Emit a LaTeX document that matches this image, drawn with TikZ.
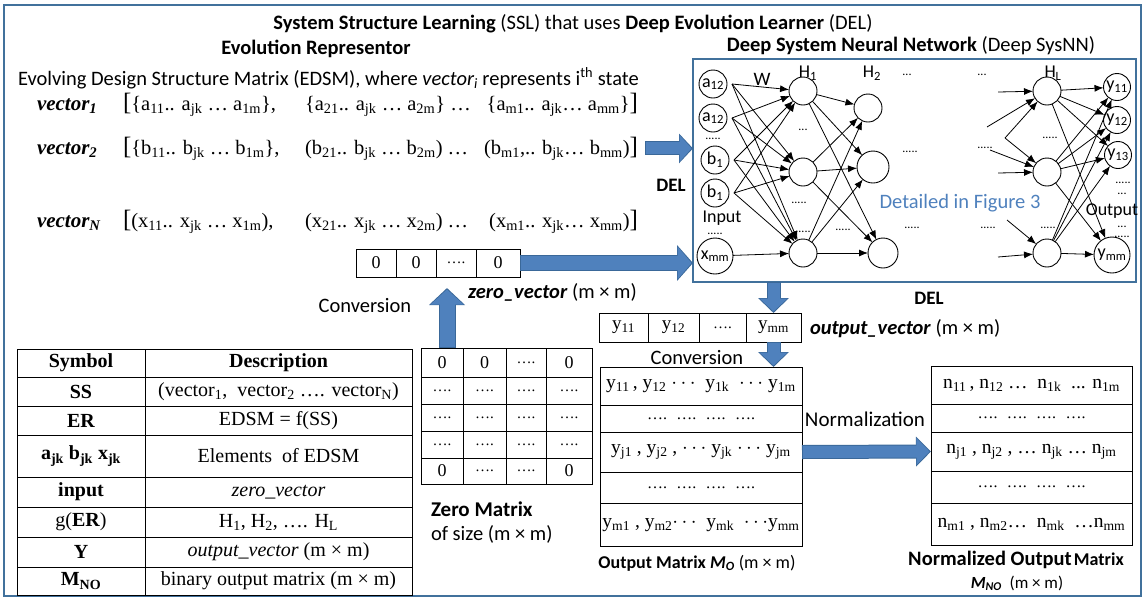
\documentclass[tikz,border=0pt]{standalone}
\usepackage{fontspec}
\setmainfont{Carlito}
\newfontfamily\tms{Liberation Serif}
\usetikzlibrary{arrows.meta,calc}

\definecolor{framebl}{HTML}{41719C}
\definecolor{arrbl}{HTML}{4F81BD}
\definecolor{arrdk}{HTML}{3A6899}
\definecolor{txtbl}{HTML}{4F81BD}

\newcommand\ssub[1]{\textsubscript{#1}}
\newcommand\fs[1]{\fontsize{#1}{#1}\selectfont}
\newcommand\dd{{\fs{15}….}}
\newcommand\rowdots{{\fs{16}…. \ …. \ …. \ ….}}

% one row of the zero matrix: index, top, height, four entries
\newcommand\zrow[7]{%
  \node[cell={42pt}{#3}] (zm-#1-1) at (421,#2) {#4};
  \node[cell={43pt}{#3}] (zm-#1-2) at (463,#2) {#5};
  \node[cell={40pt}{#3}] (zm-#1-3) at (506,#2) {#6};
  \node[cell={46pt}{#3}] (zm-#1-4) at (546,#2) {#7};}

% one row of the symbol table: index, top, height, symbol, description
\newcommand\trow[5]{%
  \node[cell={128pt}{#3}] (ts#1) at (17,#2) {#4};
  \node[cell={267pt}{#3}] (td#1) at (145,#2) {#5};}

% block arrow with a thin dark rim: shaft, head width, head length (plain and rimmed), from, to
\newcommand\blockarrow[8]{%
  \draw[blk={#4}{#5}{#6}] (#7) -- (#8);
  \draw[blk={#1}{#2}{#3}, draw=arrbl, shorten >=1.5pt, shorten <=1pt] (#7) -- (#8);}

\begin{document}
\begin{tikzpicture}[x=1pt,y=-1pt,
  every node/.style={inner sep=0pt, outer sep=0pt},
  cell/.style 2 args={draw, line width=0.9pt, minimum width=#1, minimum height=#2, anchor=north west},
  blk/.style n args={3}{draw=arrdk, line width=#1, -{Triangle[width=#2,length=#3]}},
  neur/.style={circle, draw, line width=0.9pt, minimum size=#1},
  nnarr/.style={draw, line width=0.8pt, -{Latex[length=9pt,width=7pt]}},
  nnlab/.style={font=\fs{18}},
  ddts/.style={font=\fs{12}},
  vlab/.style={anchor=base west, font=\tms\fs{21}\bfseries\itshape},
  vseg/.style={font=\tms\fs{20.5}},
]
\useasboundingbox (0,0) rectangle (1144,598);

% outer frame
\draw[framebl, line width=2pt] (4,5) rectangle (1141,596);

% headings
\node[anchor=base, font=\fs{20.5}] (title) at (573,29)
  {\textbf{System Structure Learning} (SSL) that uses \textbf{Deep Evolution Learner} (DEL)};
\node[anchor=base, font=\fs{20.5}\bfseries] (erhead) at (316,54) {Evolution Representor};
\node[anchor=base, font=\fs{20.5}] (nnhead) at (911,51) {\textbf{Deep System Neural Network} (Deep SysNN)};
\node[anchor=base west, font=\fs{20.5}] (edsm) at (18,85)
  {Evolving Design Structure Matrix (EDSM), where \textit{vector\ssub{i}} represents i\textsuperscript{th} state};

% state vectors
\node[vlab] (v1l) at (37,110) {vector\ssub{1}};
\node[vseg, anchor=base west] (v1a) at (123,110) {{\fs{25}[}\{a\ssub{11}.. a\ssub{jk} … a\ssub{1m}\},};
\node[vseg, anchor=base west] (v1b) at (305,110) {\{a\ssub{21}.. a\ssub{jk} … a\ssub{2m}\} …};
\node[vseg, anchor=base east] (v1c) at (638,110) {\{a\ssub{m1}.. a\ssub{jk}… a\ssub{mm}\}{\fs{25}]}};

\node[vlab] (v2l) at (37,154) {vector\ssub{2}};
\node[vseg, anchor=base west] (v2a) at (123,154) {{\fs{25}[}\{b\ssub{11}.. b\ssub{jk} … b\ssub{1m}\},};
\node[vseg, anchor=base west] (v2b) at (305,154) {(b\ssub{21}.. b\ssub{jk} … b\ssub{2m}) …};
\node[vseg, anchor=base east] (v2c) at (638,154) {(b\ssub{m1},.. b\ssub{jk}… b\ssub{mm}){\fs{25}]}};

\node[vlab] (vNl) at (37,227) {vector\ssub{N}};
\node[vseg, anchor=base west] (vNa) at (123,227) {{\fs{25}[}(x\ssub{11}.. x\ssub{jk} … x\ssub{1m}),};
\node[vseg, anchor=base west] (vNb) at (305,227) {(x\ssub{21}.. x\ssub{jk} … x\ssub{2m}) …};
\node[vseg, anchor=base east] (vNc) at (638,227) {(x\ssub{m1}.. x\ssub{jk}… x\ssub{mm}){\fs{25}]}};

\node[anchor=base, font=\fs{19}\bfseries] (del1) at (671,191) {DEL};

% zero vector
\begin{scope}[every node/.append style={font=\tms\fs{18}}]
\node[cell={40pt}{28pt}] (zv1) at (356,249) {0};
\node[cell={40pt}{28pt}] (zv2) at (396,249) {0};
\node[cell={40pt}{28pt}] (zv3) at (436,249) {\dd};
\node[cell={44pt}{28pt}] (zv4) at (476,249) {0};
\end{scope}
\node[anchor=base west, font=\fs{20.5}] (zvlab) at (468,298) {\textbf{\textit{zero\_vector}} (m × m)};
\node[anchor=base, font=\fs{20.5}] (conv1) at (365,312) {Conversion};

% zero matrix
\begin{scope}[every node/.append style={font=\tms\fs{18}}]
\zrow{1}{348}{29pt}{0}{0}{\dd}{0}
\zrow{2}{377}{27pt}{\dd}{\dd}{\dd}{\dd}
\zrow{3}{404}{27pt}{\dd}{\dd}{\dd}{\dd}
\zrow{4}{431}{27pt}{\dd}{\dd}{\dd}{\dd}
\zrow{5}{458}{26pt}{0}{\dd}{\dd}{0}
\end{scope}
\node[anchor=base west, font=\fs{21}\bfseries] (zmlab) at (431,516) {Zero Matrix};
\node[anchor=base west, font=\fs{20.5}] (zmsize) at (431,540) {of size (m × m)};

% Deep SysNN box
\node[draw=framebl, line width=1.8pt, minimum width=443pt, minimum height=223pt, anchor=north west] (nn) at (693,59) {};

% input layer
\node[neur=28pt, nnlab] (i1) at (713,84) {a\ssub{12}};
\node[neur=28pt, nnlab] (i2) at (713,118) {a\ssub{12}};
\node[neur=28pt, nnlab] (i3) at (715,160) {b\ssub{1}};
\node[neur=28pt, nnlab] (i4) at (715,193) {b\ssub{1}};
\node[neur=36pt, nnlab] (i5) at (715,256) {x\ssub{mm}};
\node[ddts] (id1) at (713,139) {.....};
\node[nnlab] (inlab) at (722,218) {Input};
\node[ddts] (id2) at (715,234) {.....};

% hidden layers
\node[neur=28pt] (h11) at (803,91) {};
\node[neur=28pt] (h12) at (803,172) {};
\node[neur=28pt] (h13) at (803,253) {};
\node[neur=28pt] (h21) at (868,108) {};
\node[neur=32pt] (h22) at (873,167) {};
\node[neur=30pt] (h23) at (883,253) {};
\node[neur=28pt] (hl1) at (1047,91) {};
\node[neur=28pt] (hl2) at (1047,172) {};
\node[neur=28pt] (hl3) at (1047,253) {};

% output layer
\node[neur=27pt, nnlab] (o1) at (1117,87) {y\ssub{11}};
\node[neur=27pt, nnlab] (o2) at (1117,120) {y\ssub{12}};
\node[neur=27pt, nnlab] (o3) at (1118,155) {y\ssub{13}};
\node[neur=36pt, nnlab] (o4) at (1112,255) {y\ssub{mm}};

% layer labels and ellipses
\node[font=\fs{19}] (wlab) at (762,79) {W};
\node[nnlab] (h1lab) at (808,73) {H\ssub{1}};
\node[nnlab] (h2lab) at (872,73) {H\ssub{2}};
\node[nnlab] (hllab) at (1053,73) {H\ssub{L}};
\node[ddts] (tdA) at (907,75) {...};
\node[ddts] (tdB) at (982,75) {...};
\node[ddts] (dA) at (803,130) {...};
\node[ddts] (dB) at (799,203) {.....};
\node[ddts] (dC) at (803,232) {.....};
\node[ddts] (dD) at (843,230) {.....};
\node[ddts] (dE) at (910,152) {.....};
\node[ddts] (dF) at (912,228) {.....};
\node[ddts] (dG) at (985,148) {.....};
\node[ddts] (dH) at (988,228) {.....};
\node[ddts] (dI) at (1050,138) {.....};
\node[ddts] (dJ) at (1048,228) {.....};
\node[ddts] (dK) at (1123,183) {.....};
\node[ddts] (dL) at (1122,194) {...};
\node[nnlab] (outlab) at (1112,211) {Output};
\node[ddts] (dM) at (1122,227) {...};
\node[ddts] (dN) at (1122,237) {.....};
\node[font=\fs{20.5}, text=txtbl] (detail) at (960,203) {Detailed in Figure 3};

% connections input -> H1
\foreach \i in {1,...,4} {
  \coordinate (f\i) at ([xshift=5pt]i\i.east);
  \foreach \j in {1,2,3} \draw[nnarr] (f\i) -- (h1\j);
}
\draw[nnarr] (i5) -- (h13);
% H1 -> H2
\foreach \i in {1,2,3} \foreach \j in {1,2,3} \draw[nnarr] (h1\i) -- (h2\j);
% incoming to HL
\coordinate (q1) at (998,92);
\coordinate (q2) at (987,127);
\coordinate (q3) at (1005,138);
\coordinate (q4) at (990,150);
\coordinate (q5) at (998,173);
\coordinate (q6) at (1007,220);
\coordinate (q7) at (998,257);
\draw[nnarr] (q1) -- (hl1);
\draw[nnarr] (q2) -- (hl1);
\draw[nnarr] (q3) -- (hl1);
\draw[nnarr] (q3) -- (hl2);
\draw[nnarr] (q4) -- (hl2);
\draw[nnarr] (q5) -- (hl2);
\draw[nnarr] (q6) -- (hl3);
\draw[nnarr] (q7) -- (hl3);
% HL -> outputs
\foreach \i in {1,2,3} \foreach \j in {1,...,4} \draw[nnarr] (hl\i) -- (o\j);

% output vector
\begin{scope}[every node/.append style={font=\tms\fs{19}}]
\node[cell={49pt}{29pt}] (ov1) at (599,313) {y\ssub{11}};
\node[cell={51pt}{29pt}] (ov2) at (648,313) {y\ssub{12}};
\node[cell={47pt}{29pt}] (ov3) at (699,313) {\dd};
\node[cell={55pt}{29pt}] (ov4) at (746,313) {y\ssub{mm}};
\end{scope}
\node[anchor=base, font=\fs{19}\bfseries] (del2) at (929,304) {DEL};
\node[anchor=base west, font=\fs{20.5}] (ovlab) at (810,334) {\textbf{\textit{output\_vector}} (m × m)};
\node[anchor=base, font=\fs{20.5}] (conv2) at (697,364) {Conversion};

% output matrix
\begin{scope}[every node/.append style={font=\tms\fs{19.5}}]
\node[cell={202pt}{38pt}] (om1) at (600,367) {y\ssub{11}\,, y\ssub{12} $\cdots$ \ y\ssub{1k} \ $\cdots$ y\ssub{1m}};
\node[cell={202pt}{27pt}] (om2) at (600,405) {\rowdots};
\node[cell={202pt}{40pt}] (om3) at (600,432) {y\ssub{j1} , y\ssub{j2} , $\cdots$ y\ssub{jk} $\cdots$ y\ssub{jm}};
\node[cell={202pt}{31pt}] (om4) at (600,472) {\rowdots};
\node[cell={202pt}{43pt}] (om5) at (600,503) {y\ssub{m1} , y\ssub{m2}$\cdots$ \ y\ssub{mk} \ $\cdots$y\ssub{mm}};
\end{scope}
\node[anchor=base, font=\fs{18}] (omlab) at (697,568)
  {\textbf{Output Matrix \textit{M\ssub{O}}} (m × m)};

% normalized matrix
\begin{scope}[every node/.append style={font=\tms\fs{19.5}}]
\node[cell={201pt}{38pt}] (nm1) at (931,366) {n\ssub{11}\,, n\ssub{12} … \ n\ssub{1k} \ ... n\ssub{1m}};
\node[cell={201pt}{28pt}] (nm2) at (931,404) {\rowdots};
\node[cell={201pt}{39pt}] (nm3) at (931,432) {n\ssub{j1} , n\ssub{j2} , … n\ssub{jk} … n\ssub{jm}};
\node[cell={201pt}{32pt}] (nm4) at (931,471) {\rowdots};
\node[cell={201pt}{42pt}] (nm5) at (931,503) {n\ssub{m1} , n\ssub{m2}… \ n\ssub{mk} \ …n\ssub{mm}};
\end{scope}
\node[anchor=base, font=\fs{21}] (normlab) at (865,426) {Normalization};
\node[anchor=base, font=\bfseries] (nmlab) at (1016,565)
  {{\fs{20.5}Normalized Output} {\fs{18}Matrix}};
\node[anchor=base, font=\fs{17}] (nmlab2) at (1017,588) {\textbf{\textit{M\ssub{NO}}} \ (m × m)};

% symbol table
\begin{scope}[every node/.append style={font=\tms\fs{20}}]
\trow{1}{349}{28pt}{\textbf{Symbol}}{\textbf{Description}}
\trow{2}{377}{29pt}{\textbf{SS}}{(vector\ssub{1}, \ vector\ssub{2} …. vector\ssub{N})}
\trow{3}{406}{29pt}{\textbf{ER}}{EDSM = f(SS)}
\trow{4}{435}{42pt}{\textbf{a\ssub{jk} b\ssub{jk} x\ssub{jk}}}{Elements \ of EDSM}
\trow{5}{477}{30pt}{\textbf{input}}{\textit{zero\_vector}}
\trow{6}{507}{30pt}{g(\textbf{ER})}{H\ssub{1}, H\ssub{2}, …. H\ssub{L}}
\trow{7}{537}{30pt}{\textbf{Y}}{\textit{output\_vector} (m × m)}
\trow{8}{567}{28pt}{\textbf{M\ssub{NO}}}{binary output matrix (m × m)}
\end{scope}

% block arrows
\coordinate (v2s) at ([xshift=7pt]v2c.east);
\coordinate (v2t) at (v2c.east -| nn.west);
\blockarrow{12pt}{26pt}{12pt}{14pt}{29pt}{14pt}{v2s}{v2t}
\coordinate (zvt) at (zv4.east -| nn.west);
\blockarrow{14pt}{32pt}{14pt}{16pt}{35pt}{16pt}{zv4.east}{zvt}
\coordinate (upS) at (447,348);
\coordinate (upT) at (447,288);
\blockarrow{15pt}{32pt}{15pt}{17pt}{35pt}{17pt}{upS}{upT}
\coordinate (d1s) at (ov4.north |- nn.south);
\blockarrow{12pt}{27pt}{13pt}{14pt}{30pt}{15pt}{d1s}{ov4.north}
\coordinate (d2t) at (ov4.south |- om1.north);
\blockarrow{12pt}{27pt}{13pt}{14pt}{30pt}{15pt}{ov4.south}{d2t}
\blockarrow{12pt}{26pt}{13pt}{14pt}{29pt}{15pt}{om3.east}{nm3.west}
\end{tikzpicture}
\end{document}
